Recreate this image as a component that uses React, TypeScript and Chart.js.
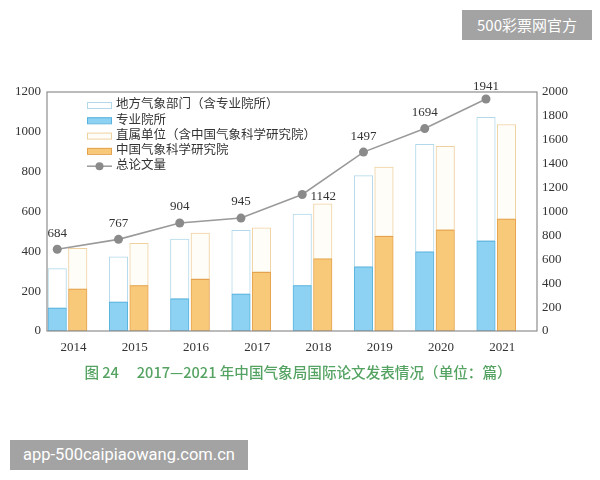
import React, { useEffect, useRef } from "react";
import { Chart, registerables } from "chart.js";

Chart.register(...registerables);

const years = [2014, 2015, 2016, 2017, 2018, 2019, 2020, 2021];
const localTotal = [313, 373, 462, 505, 587, 780, 937, 1073];
const specialInst = [115, 145, 162, 185, 228, 322, 397, 452];
const directTotal = [415, 440, 492, 518, 638, 823, 927, 1037];
const camsValues = [210, 228, 260, 295, 362, 475, 507, 562];
const totalPapers = [684, 767, 904, 945, 1142, 1497, 1694, 1941];

const seriesNames = [
  "地方气象部门（含专业院所）",
  "专业院所",
  "直属单位（含中国气象科学研究院）",
  "中国气象科学研究院",
  "总论文量",
];

const captionText = "图 24\u3000 2017—2021 年中国气象局国际论文发表情况（单位：篇）";
const watermarkTop = "500彩票网官方";
const watermarkBottom = "app-500caipiaowang.com.cn";

const NUM_FONT = "'Liberation Serif', 'Times New Roman', serif";
const CJK_FONT = "'Liberation Serif', 'Noto Sans CJK SC', serif";

const framePlugin = {
  id: "frame",
  afterDatasetsDraw(chart: any) {
    const { ctx, chartArea } = chart;
    ctx.save();
    ctx.strokeStyle = "#8e8e8e";
    ctx.lineWidth = 1.2;
    ctx.strokeRect(chartArea.left, chartArea.top, chartArea.right - chartArea.left, chartArea.bottom - chartArea.top);
    ctx.restore();
  },
};

const pointLabelPlugin = {
  id: "pointLabels",
  afterDraw(chart: any) {
    const { ctx } = chart;
    const meta = chart.getDatasetMeta(4);
    ctx.save();
    ctx.font = `13px ${NUM_FONT}`;
    ctx.fillStyle = "#333";
    ctx.textBaseline = "middle";
    ctx.textAlign = "center";
    meta.data.forEach((pt: any, i: number) => {
      const v = String(totalPapers[i]);
      if (i === 4) {
        ctx.fillText(v, pt.x + 21, pt.y + 2);
      } else {
        const dy = i === totalPapers.length - 1 ? -12 : -16;
        ctx.fillText(v, pt.x, pt.y + dy);
      }
    });
    ctx.restore();
  },
};

const legendPlugin = {
  id: "customLegend",
  afterDraw(chart: any) {
    const { ctx, chartArea } = chart;
    const ds = chart.data.datasets;
    const order = [1, 0, 3, 2, 4];
    const x0 = chartArea.left + 40;
    const y0 = chartArea.top + 13;
    const step = 15.3;
    ctx.save();
    ctx.font = `12.5px ${CJK_FONT}`;
    ctx.textBaseline = "middle";
    ctx.textAlign = "left";
    order.forEach((di, row) => {
      const d = ds[di];
      const y = y0 + row * step;
      if (d.type === "line") {
        ctx.strokeStyle = d.borderColor;
        ctx.lineWidth = 1.5;
        ctx.beginPath();
        ctx.moveTo(x0, y);
        ctx.lineTo(x0 + 25, y);
        ctx.stroke();
        ctx.fillStyle = d.pointBackgroundColor;
        ctx.beginPath();
        ctx.arc(x0 + 12.5, y, 4, 0, Math.PI * 2);
        ctx.fill();
      } else {
        ctx.fillStyle = d.backgroundColor;
        ctx.fillRect(x0, y - 3, 25, 6);
        ctx.strokeStyle = d.borderColor;
        ctx.lineWidth = 1;
        ctx.strokeRect(x0 + 0.5, y - 3 + 0.5, 24, 6);
      }
      ctx.fillStyle = "#333";
      ctx.fillText(d.label, x0 + 29, y);
    });
    ctx.restore();
  },
};

function hiddenX(min: number) {
  return {
    type: "linear",
    display: false,
    offset: false,
    min,
    max: min + 8,
    grid: { display: false, offset: false },
  };
}

function ChartCanvas() {
  const ref = useRef<HTMLCanvasElement | null>(null);
  useEffect(() => {
    if (!ref.current) return;
    const tickFont = { family: NUM_FONT, size: 13 };
    const noGrid = { display: false, drawTicks: false };
    const barCommon = { type: "bar", order: 1, borderWidth: 1, borderSkipped: false, grouped: false, barThickness: 18.5 };
    const chart = new Chart(ref.current, {
      type: "bar",
      data: {
        datasets: [
          {
            ...barCommon,
            label: seriesNames[1],
            xAxisID: "xL",
            data: years.map((y, i) => ({ x: y, y: specialInst[i] })),
            backgroundColor: "#8dd2f2",
            borderColor: "#58b3de",
          },
          {
            ...barCommon,
            label: seriesNames[0],
            xAxisID: "xL",
            data: years.map((y, i) => ({ x: y, y: localTotal[i] - specialInst[i] })),
            backgroundColor: "#ffffff",
            borderColor: "#b2d9ea",
          },
          {
            ...barCommon,
            label: seriesNames[3],
            xAxisID: "xR",
            data: years.map((y, i) => ({ x: y, y: camsValues[i] })),
            backgroundColor: "#f9c97a",
            borderColor: "#e5a24e",
          },
          {
            ...barCommon,
            label: seriesNames[2],
            xAxisID: "xR",
            data: years.map((y, i) => ({ x: y, y: directTotal[i] - camsValues[i] })),
            backgroundColor: "#fffdf8",
            borderColor: "#efd1a0",
          },
          {
            type: "line",
            label: seriesNames[4],
            order: 0,
            xAxisID: "xL",
            yAxisID: "y1",
            data: years.map((y, i) => ({ x: y, y: totalPapers[i] })),
            borderColor: "#9a9a9a",
            borderWidth: 1.6,
            pointRadius: 4.5,
            pointBackgroundColor: "#8a8a8a",
            pointBorderColor: "#8a8a8a",
            pointBorderWidth: 0,
            tension: 0,
          },
        ] as any,
      },
      options: {
        animation: false,
        responsive: false,
        maintainAspectRatio: false,
        layout: { padding: { left: 0, right: 0, top: 92, bottom: 0 } },
        plugins: { legend: { display: false }, tooltip: { enabled: false } },
        scales: {
          x: {
            type: "linear",
            offset: false,
            min: 2013.566,
            max: 2021.566,
            grid: { ...noGrid, offset: false },
            border: { display: false },
            afterBuildTicks: (s: any) => {
              s.ticks = years.map((v) => ({ value: v }));
            },
            afterFit: (s: any) => {
              s.height = 149;
            },
            ticks: {
              font: tickFont,
              color: "#333",
              padding: 9,
              maxRotation: 0,
              autoSkip: false,
              callback: (v: any) => String(v),
            },
          },
          xL: hiddenX(2013.833),
          xR: hiddenX(2013.498),
          y: {
            stacked: true,
            position: "left",
            min: 0,
            max: 1200,
            grid: noGrid,
            border: { display: false },
            afterFit: (s: any) => {
              s.width = 47;
            },
            ticks: { stepSize: 200, font: tickFont, color: "#333", padding: 6, callback: (v: any) => String(v) },
          },
          y1: {
            position: "right",
            min: 0,
            max: 2000,
            grid: noGrid,
            border: { display: false },
            afterFit: (s: any) => {
              s.width = 63;
            },
            ticks: { stepSize: 200, font: tickFont, color: "#333", padding: 5, callback: (v: any) => String(v) },
          },
        } as any,
      },
      plugins: [framePlugin, pointLabelPlugin, legendPlugin],
    });
    return () => chart.destroy();
  }, []);
  return <canvas ref={ref} width={600} height={480} style={{ position: "absolute", left: 0, top: 0 }} />;
}

export default function App() {
  return (
    <div style={{ position: "fixed", left: 0, top: 0, width: 600, height: 480, background: "#fff", overflow: "hidden" }}>
      <ChartCanvas />
      <div
        style={{
          position: "absolute",
          left: 4,
          top: 361,
          width: 588,
          textAlign: "center",
          fontFamily: "'Noto Sans CJK SC', sans-serif",
          fontSize: 14.6,
          fontWeight: 500,
          color: "#55a362",
          lineHeight: "22px",
        }}
      >
        {captionText}
      </div>
      <div
        style={{
          position: "absolute",
          left: 462,
          top: 10,
          width: 130,
          height: 30,
          background: "#a3a3a3",
          color: "#fff",
          fontFamily: "'Noto Sans CJK SC', sans-serif",
          fontSize: 15,
          lineHeight: "30px",
          textAlign: "center",
        }}
      >
        {watermarkTop}
      </div>
      <div
        style={{
          position: "absolute",
          left: 10,
          top: 440,
          width: 238,
          height: 30,
          background: "#a3a3a3",
          color: "#fff",
          fontFamily: "Roboto, 'Noto Sans', sans-serif",
          fontSize: 16.5,
          lineHeight: "30px",
          textAlign: "center",
        }}
      >
        {watermarkBottom}
      </div>
    </div>
  );
}
